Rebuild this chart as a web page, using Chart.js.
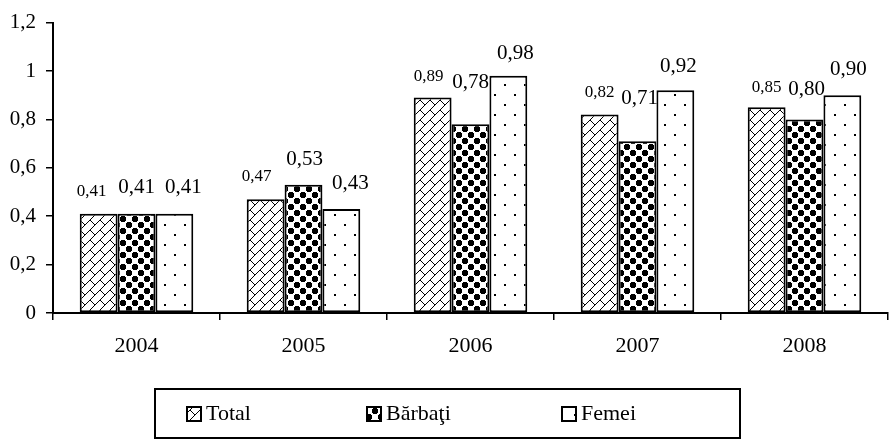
<!DOCTYPE html>
<html><head><meta charset="utf-8">
<script src="https://cdn.jsdelivr.net/npm/chart.js@4.4.0/dist/chart.umd.min.js"></script>
<style>html,body{margin:0;padding:0;background:#fff;}#wrap{width:889px;height:440px;}</style>
</head><body><div id="wrap"><canvas id="c" width="889" height="440"></canvas></div>
<script>
// ---- data ----
const categories = ['2004', '2005', '2006', '2007', '2008'];
const seriesNames = ['Total', 'Bărbaţi', 'Femei'];
const totalValues = [0.41, 0.47, 0.89, 0.82, 0.85];
const barbatiValues = [0.41, 0.53, 0.78, 0.71, 0.80];
const femeiValues = [0.41, 0.43, 0.98, 0.92, 0.90];
const yTickLabels = ['0', '0,2', '0,4', '0,6', '0,8', '1', '1,2'];

// ---- styling (label offsets from bar top-centre, px) ----
const labelLift = [[22, 23, 21, 22, 20], [26, 25, 42, 43, 30], [26, 25, 22, 24, 26]];
const labelShift = [[-7, -9, -4, 0, 0], [0, 1, 0, 2, 2], [9, 9, 7, 3, 6]];
const labelFontSize = [17, 21, 21];
const SERIF = "'Liberation Serif', 'Times New Roman', serif";

const canvas = document.getElementById('c');
const ctx = canvas.getContext('2d');

function tile(w, h, fn) {
  const c = document.createElement('canvas');
  c.width = w; c.height = h;
  const x = c.getContext('2d');
  x.fillStyle = '#fff'; x.fillRect(0, 0, w, h);
  x.fillStyle = '#000';
  fn(x);
  return ctx.createPattern(c, 'repeat');
}
const patTotal = tile(10, 10, x => {
  for (let i = 0; i < 10; i++) x.fillRect(i, 9 - i, 1, 1);
  for (let i = 0; i < 5; i++) x.fillRect(i, i, 1, 1);
});
const blob = ['.####.', '######', '######', '######', '######', '.####.'];
const patBarbati = tile(12, 12, x => {
  for (let r = 0; r < 6; r++) for (let c = 0; c < 6; c++) if (blob[r][c] === '#') {
    x.fillRect(c, r, 1, 1); x.fillRect(c + 6, r + 6, 1, 1);
  }
});
const patFemei = tile(20, 20, x => { x.fillRect(4, 4, 2, 2); x.fillRect(14, 14, 2, 2); });
const patterns = [patTotal, patBarbati, patFemei];

function fmt(v) { return v.toFixed(2).replace('.', ','); }

const labelPlugin = {
  id: 'barLabels',
  afterDatasetsDraw(chart) {
    const c = chart.ctx;
    c.save();
    c.fillStyle = '#000';
    c.textAlign = 'center';
    c.textBaseline = 'middle';
    chart.data.datasets.forEach((ds, di) => {
      const meta = chart.getDatasetMeta(di);
      c.font = labelFontSize[di] + 'px ' + SERIF;
      meta.data.forEach((el, i) => {
        c.fillText(fmt(ds.data[i]), el.x + labelShift[di][i], el.y - labelLift[di][i]);
      });
    });
    c.restore();
  }
};

const legendPlugin = {
  id: 'boxLegend',
  afterDraw(chart) {
    const c = chart.ctx;
    c.save();
    c.strokeStyle = '#000';
    c.lineWidth = 2;
    c.strokeRect(155, 389, 585, 49);
    const boxX = [187, 367, 562];
    c.font = '22px ' + SERIF;
    c.textBaseline = 'middle';
    c.textAlign = 'left';
    seriesNames.forEach((n, i) => {
      c.fillStyle = patterns[i];
      c.fillRect(boxX[i], 407, 14, 14);
      c.lineWidth = 2;
      c.strokeRect(boxX[i], 407, 14, 14);
      c.fillStyle = '#000';
      c.fillText(n, boxX[i] + 19, 414);
    });
    c.restore();
  }
};

const seriesValues = [totalValues, barbatiValues, femeiValues];
new Chart(canvas, {
  type: 'bar',
  data: {
    labels: categories,
    datasets: seriesNames.map((n, i) => ({
      label: n,
      data: seriesValues[i],
      backgroundColor: patterns[i],
      borderColor: '#000',
      borderWidth: 2,
      borderSkipped: false,
      categoryPercentage: 0.68,
      barPercentage: 1.0
    }))
  },
  options: {
    responsive: false,
    devicePixelRatio: 1,
    animation: false,
    layout: { padding: { top: 16, right: 1, bottom: 67, left: 0 } },
    plugins: { legend: { display: false }, tooltip: { enabled: false } },
    scales: {
      x: {
        offset: true,
        grid: { offset: true, drawOnChartArea: false, drawTicks: true, tickLength: 7, color: '#000', lineWidth: 1.5 },
        border: { display: true, color: '#000', width: 2 },
        ticks: { color: '#000', font: { family: SERIF, size: 22 }, padding: 13, maxRotation: 0 },
        afterFit(s) { s.height = 60; }
      },
      y: {
        min: 0, max: 1.2,
        ticks: {
          stepSize: 0.2, color: '#000', font: { family: SERIF, size: 21 }, padding: 10,
          callback: (v, i) => yTickLabels[i]
        },
        grid: { drawOnChartArea: false, drawTicks: true, tickLength: 7, color: '#000', lineWidth: 1.5 },
        border: { display: true, color: '#000', width: 2 },
        afterFit(s) { s.width = 53; }
      }
    }
  },
  plugins: [labelPlugin, legendPlugin]
});
</script></body></html>
